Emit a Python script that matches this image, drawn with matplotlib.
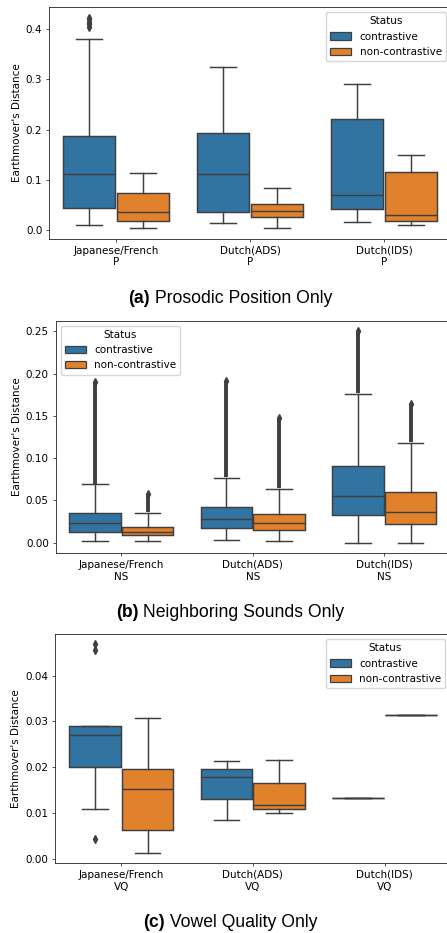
import matplotlib
matplotlib.use("Agg")
import matplotlib.pyplot as plt
from matplotlib.patches import Patch

# categories
groups = ["Japanese/French", "Dutch(ADS)", "Dutch(IDS)"]
hues = ["contrastive", "non-contrastive"]
panel_codes = ["P", "NS", "VQ"]
captions = ["Prosodic Position Only", "Neighboring Sounds Only", "Vowel Quality Only"]

# box stats per group: [whislo, q1, median, q3, whishi]
a_con = [[0.009, 0.043, 0.112, 0.187, 0.380],
         [0.013, 0.035, 0.111, 0.193, 0.325],
         [0.015, 0.042, 0.069, 0.221, 0.291]]
a_non = [[0.003, 0.018, 0.036, 0.073, 0.114],
         [0.004, 0.025, 0.037, 0.052, 0.084],
         [0.009, 0.017, 0.030, 0.116, 0.150]]
a_con_fliers = [[0.405, 0.410, 0.415, 0.420, 0.423], [], []]
a_non_fliers = [[], [], []]

b_con = [[0.0016, 0.013, 0.0228, 0.0357, 0.069],
         [0.003, 0.018, 0.028, 0.042, 0.077],
         [0.000, 0.0326, 0.055, 0.0907, 0.176]]
b_non = [[0.0016, 0.0086, 0.013, 0.0188, 0.035],
         [0.002, 0.015, 0.023, 0.034, 0.064],
         [0.000, 0.0216, 0.0365, 0.060, 0.118]]
# dense outlier columns: (lowest, highest) outlier value
b_con_flier_span = [(0.070, 0.190), (0.078, 0.191), (0.177, 0.250)]
b_non_flier_span = [(0.036, 0.058), (0.065, 0.148), (0.119, 0.164)]

c_con = [[0.0109, 0.0200, 0.0270, 0.0289, 0.0291],
         [0.0085, 0.0131, 0.0178, 0.0195, 0.0213],
         [0.0133, 0.0133, 0.0133, 0.0133, 0.0133]]
c_non = [[0.0013, 0.0063, 0.0153, 0.0196, 0.0307],
         [0.0101, 0.0108, 0.0117, 0.0165, 0.0216],
         [0.0313, 0.0313, 0.0313, 0.0313, 0.0313]]
c_con_fliers = [[0.0043, 0.0455, 0.0468], [], []]
c_non_fliers = [[], [], []]

colors = ["#3274a1", "#e1812c"]
gray = "#3f3f3f"
fs = 7.5

fig = plt.figure(figsize=(4.47, 9.33), dpi=100)
W, H = 447, 933
# axes boxes in pixels: left, right, top, bottom
boxes_px = [(49, 451, 7, 239), (55.5, 450, 320.7, 553.3), (55.3, 450.5, 634, 863.3)]
caption_base = [303, 617, 927]
legend_loc = ["upper right", "upper left", "upper right"]

panels = [
    (a_con, a_non, a_con_fliers, a_non_fliers, None, None),
    (b_con, b_non, [[], [], []], [[], [], []], b_con_flier_span, b_non_flier_span),
    (c_con, c_non, c_con_fliers, c_non_fliers, None, None),
]


def make_stats(rows, fliers):
    out = []
    for r, f in zip(rows, fliers):
        out.append(dict(whislo=r[0], q1=r[1], med=r[2], q3=r[3], whishi=r[4], fliers=f))
    return out


for k, (con, non, conf, nonf, cspan, nspan) in enumerate(panels):
    l, r, t, b = boxes_px[k]
    ax = fig.add_axes([l / W, 1 - b / H, (r - l) / W, (b - t) / H])
    lw = 1.05
    for h, (rows, fl, span) in enumerate([(con, conf, cspan), (non, nonf, nspan)]):
        pos = [i - 0.2 + 0.4 * h for i in range(len(groups))]
        ax.bxp(make_stats(rows, fl), positions=pos, widths=0.392, patch_artist=True,
               manage_ticks=False,
               boxprops=dict(facecolor=colors[h], edgecolor=gray, linewidth=lw),
               medianprops=dict(color=gray, linewidth=lw),
               whiskerprops=dict(color=gray, linewidth=lw),
               capprops=dict(color=gray, linewidth=lw),
               flierprops=dict(marker="d", markersize=3.6, markerfacecolor=gray,
                               markeredgecolor=gray, linestyle="none"))
        if span is not None:
            # outliers so dense they merge into a solid column
            for p, (lo, hi) in zip(pos, span):
                ax.vlines(p, lo, hi, color=gray, linewidth=2.8)
                ax.plot([p], [hi], "d", color=gray, markersize=3.8)

    ax.set_xlim(-0.5, 2.5)
    ax.set_xticks(range(len(groups)))
    ax.set_xticklabels([g + "\n" + panel_codes[k] for g in groups], fontsize=fs)
    ax.tick_params(axis="both", labelsize=fs, width=0.55, length=2.4, color="#222222",
                   pad=2.4)
    ax.set_ylabel("Earthmover's Distance", fontsize=fs, labelpad=3)
    for s in ax.spines.values():
        s.set_linewidth(0.6)
        s.set_color("#222222")
    handles = [Patch(facecolor=colors[i], edgecolor=gray, linewidth=0.9, label=hues[i])
               for i in range(2)]
    ax.legend(handles=handles, title="Status", loc=legend_loc[k], fontsize=fs,
              title_fontsize=fs)

# captions with bold panel letter
fig.canvas.draw()
renderer = fig.canvas.get_renderer()
for k, letter in enumerate(["(a)", "(b)", "(c)"]):
    y = 1 - caption_base[k] / H
    t1 = fig.text(0, y, letter, fontsize=12.7, fontweight="bold",
                  family="Liberation Sans", va="baseline")
    t2 = fig.text(0, y, " " + captions[k], fontsize=12.7, family="Liberation Sans",
                  va="baseline")
    w1 = t1.get_window_extent(renderer).width
    w2 = t2.get_window_extent(renderer).width
    x0 = 230 - (w1 + w2) / 2
    t1.set_x(x0 / W)
    t2.set_x((x0 + w1) / W)

fig.savefig("out.png", dpi=100)
